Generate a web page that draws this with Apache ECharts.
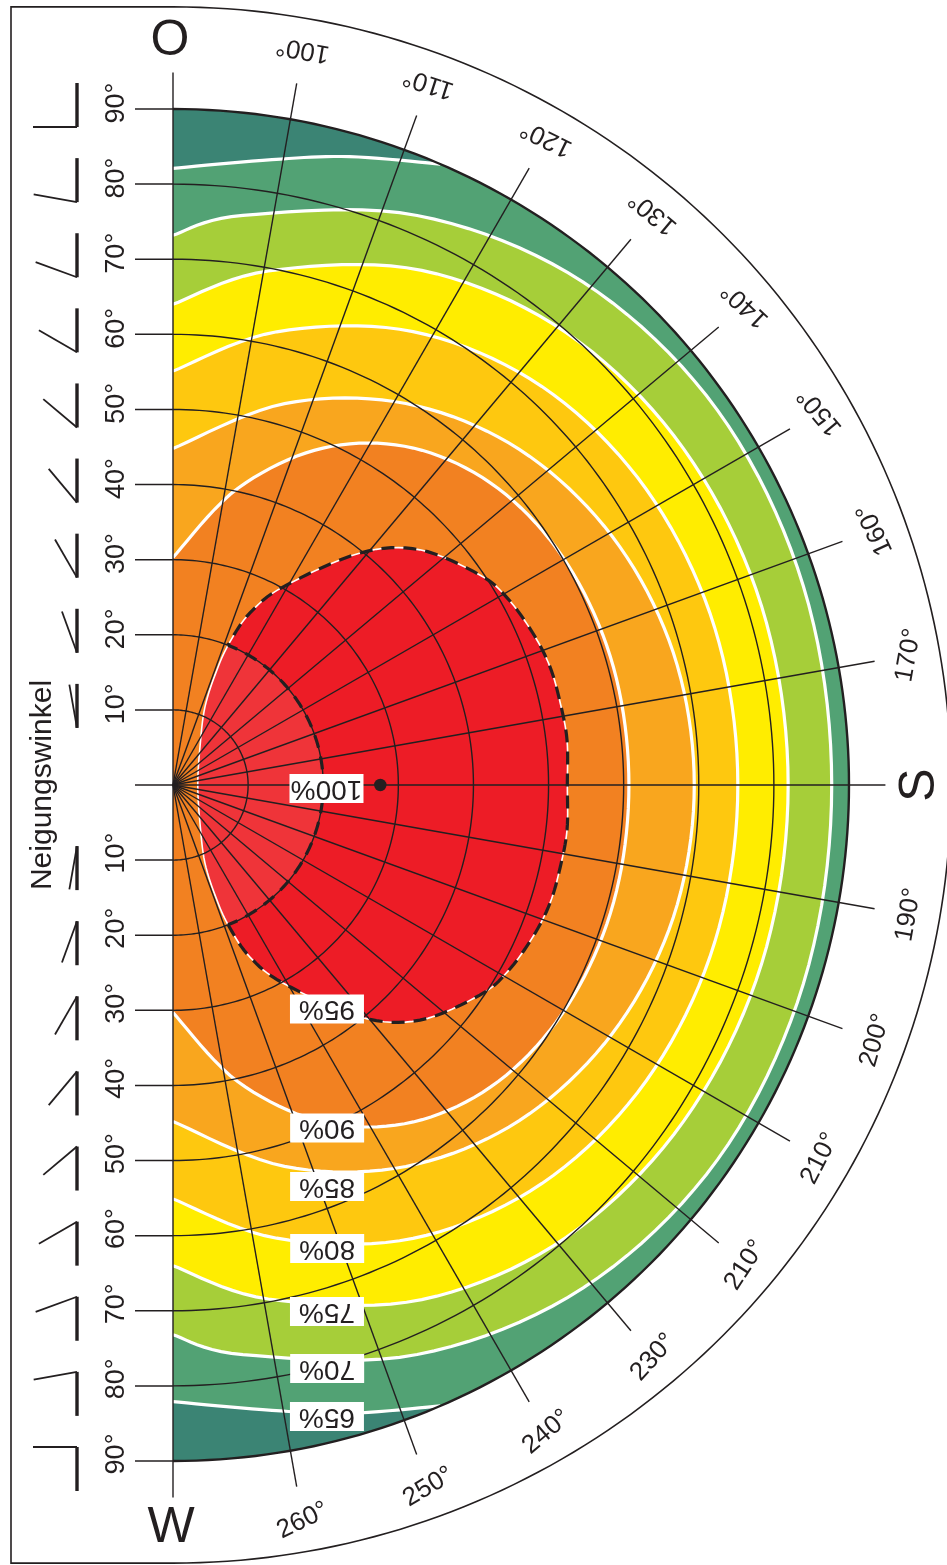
<!DOCTYPE html>
<html><head><meta charset="utf-8">
<script src="https://cdn.jsdelivr.net/npm/echarts@6/dist/echarts.min.js"></script>
<style>html,body{margin:0;padding:0;background:#fff}#main{width:947px;height:1565px}</style>
</head><body><div id="main"></div>
<script>
// ---------------- DATA ----------------
const tiltValues = [10, 20, 30, 40, 50, 60, 70, 80, 90];
const azimuthGrid = [90,100,110,120,130,140,150,160,170,180,190,200,210,220,230,240,250,260,270];
const azimuthLabelAngles = [100,110,120,130,140,150,160,170,180,190,200,210,220,230,240,250,260];
const azimuthLabelTexts = ['100°','110°','120°','130°','140°','150°','160°','170°','S','190°','200°','210°','210°','230°','240°','250°','260°'];
const tiltAxisTitle = 'Neigungswinkel';
const compassTexts = ['O', 'S', 'W'];
const bandLabels = ['100%','95%','90%','85%','80%','75%','70%','65%'];
// contour lines: [azimuth°, tilt°]
const contour65 = [[90,82.1],[99,84.3],[105.7,86.9],[113.3,90],[246.7,90],[254.3,86.9],[261,84.3],[270,82.1]];
const contour70 = [[90,73.2],[97.0,76.4],[113.2,82.5],[129.2,86.4],[145.5,88.0],[162.5,88.0],[180,87.7],[197.5,88.0],[214.5,88.0],[230.8,86.4],[246.8,82.5],[263.0,76.4],[270,73.2]];
const contour75 = [[90,64.0],[100.5,69.6],[115.8,76.1],[131.0,79.8],[146.7,81.4],[163.1,81.9],[180,81.9],[196.9,81.9],[213.3,81.4],[229.0,79.8],[244.2,76.1],[259.5,69.6],[270,64.0]];
const contour80 = [[90,55.1],[102.9,61.9],[117.9,68.3],[132.8,72.3],[148.0,74.3],[163.8,75.1],[180,75.2],[196.2,75.1],[212.0,74.3],[227.2,72.3],[242.1,68.3],[257.1,61.9],[270,55.1]];
const contour85 = [[90,44.8],[106.3,52.9],[121.4,59.5],[135.9,64.2],[150.5,67.2],[165.2,68.9],[180,69.4],[194.8,68.9],[209.5,67.2],[224.1,64.2],[238.6,59.5],[253.7,52.9],[270,44.8]];
const contour90 = [[90,30.3],[102.3,40.4],[114.0,49.1],[125.5,55.1],[137.7,58.6],[150.9,60.2],[165.1,60.7],[180,60.7],[194.9,60.7],[209.1,60.2],[222.3,58.6],[234.5,55.1],[246.0,49.1],[257.7,40.4],[270,30.3]];
const contour95 = [[180,52.5],[173.5,52.8],[168,52.7],[162.6,52.6],[157.1,52.0],[150.8,51.0],[145.6,49.5],[136.4,45.4],[128.9,39.7],[119.1,30.2],[114.1,25.1],[111.7,20.5],[110.9,16.4],[112.3,11.2],[125.4,6.2],[180,3.3],
                   [234.6,6.2],[247.7,11.2],[249.1,16.4],[248.3,20.5],[245.9,25.1],[240.9,30.2],[231.1,39.7],[223.6,45.4],[214.4,49.5],[209.2,51.0],[202.9,52.0],[197.4,52.6],[192,52.7],[186.5,52.8]];
const optimumPoint = [180, 27.6];
const lowTiltLimit = 20;

// ---------------- LAYOUT / STYLE ----------------
const C = { teal:'#3B8474', green:'#52A274', ygreen:'#A6CE39', yellow:'#FFED00', gold:'#FEC80F', lorange:'#F9A61E', orange:'#F28121', red:'#ED1C26', lred:'#EF3439', ink:'#231F20' };
const bandFills = [C.green, C.ygreen, C.yellow, C.gold, C.lorange, C.orange];
const openContours = [contour65, contour70, contour75, contour80, contour85, contour90];
const R_MAX = 103.6, PX_PER_DEG = 7.511;
const labelRadius = 99.45, letterRadius = 99.0, gridRadius = 94.85;
const azLabelRot = [170,162,154,140,137,130,115,80,90,80,74,63,57,48,40,31,26];
const bandLabelPos = [[181.3,20.44],[235.5,36.19],[245.8,50.06],[249.0,57.25],[251.6,65.03],[253.7,73.04],[255.2,80.35],[256.3,86.54]];
const FONT = 'Liberation Sans, Arial, Helvetica, sans-serif';

function smooth(pts, closed, seg) {
  seg = seg || 10;
  const n = pts.length, out = [];
  if (n < 3) return pts.slice();
  const get = i => closed ? pts[(i + n) % n] : pts[Math.max(0, Math.min(n - 1, i))];
  const last = closed ? n : n - 1;
  for (let i = 0; i < last; i++) {
    const p0 = get(i - 1), p1 = get(i), p2 = get(i + 1), p3 = get(i + 2);
    for (let s = 0; s < seg; s++) {
      const t = s / seg, t2 = t * t, t3 = t2 * t;
      const f = k => 0.5 * ((2 * p1[k]) + (-p0[k] + p2[k]) * t + (2 * p0[k] - 5 * p1[k] + 4 * p2[k] - p3[k]) * t2 + (-p0[k] + 3 * p1[k] - 3 * p2[k] + p3[k]) * t3);
      out.push([f(0), f(1)]);
    }
  }
  if (!closed) out.push(pts[n - 1]);
  return out;
}

function renderAll(params, api) {
  const P = (az, t) => api.coord([t, az]);
  const arc = (t, a0, a1) => { const pts = []; const n = Math.max(2, Math.ceil(Math.abs(a1 - a0))); for (let i = 0; i <= n; i++) pts.push(P(a0 + (a1 - a0) * i / n, t)); return pts; };
  const ctr = P(90, 0);
  const azOf = p => 90 + Math.atan2(p[0] - ctr[0], ctr[1] - p[1]) * 180 / Math.PI;
  const kids = [];
  const line = (a, b, w, col) => kids.push({ type: 'line', shape: { x1: a[0], y1: a[1], x2: b[0], y2: b[1] }, style: { stroke: col || C.ink, lineWidth: w } });
  const poly = (pts, w, col, dash) => kids.push({ type: 'polyline', shape: { points: pts }, style: { stroke: col || C.ink, lineWidth: w, fill: null, lineDash: dash || null } });
  const text = (s, x, y, size, rot, extra) => kids.push({ type: 'text', x: x, y: y, rotation: rot || 0, style: Object.assign({ text: s, fill: C.ink, fontSize: size, fontFamily: FONT, align: 'center', verticalAlign: 'middle' }, extra || {}) });

  // base: whole half disc (< 65 %)
  kids.push({ type: 'polygon', shape: { points: [ctr].concat(arc(90, 90, 270)) }, style: { fill: C.teal } });

  // open contour bands
  const whiteLines = [];
  openContours.forEach((c, k) => {
    const pieces = []; let cur = [c[0]];
    for (let i = 1; i < c.length; i++) {
      if (c[i - 1][1] >= 90 && c[i][1] >= 90) { pieces.push(cur); cur = [c[i]]; } else cur.push(c[i]);
    }
    pieces.push(cur);
    const lines = pieces.map(pc => smooth(pc.map(p => P(p[0], p[1])), false));
    let fill = [ctr];
    pieces.forEach((pc, j) => {
      fill = fill.concat(lines[j]);
      if (j < pieces.length - 1) fill = fill.concat(arc(90, pc[pc.length - 1][0], pieces[j + 1][0][0]));
    });
    kids.push({ type: 'polygon', shape: { points: fill }, style: { fill: bandFills[k] } });
    lines.forEach(l => whiteLines.push(l));
  });

  // 95 % closed region
  const loop = smooth(contour95.map(p => P(p[0], p[1])), true, 8);
  kids.push({ type: 'polygon', shape: { points: loop }, style: { fill: C.red } });
  const r20 = ctr[1] - P(90, lowTiltLimit)[1];
  const d = p => Math.hypot(p[0] - ctr[0], p[1] - ctr[1]);
  let i0 = -1, i1 = -1;
  loop.forEach((p, i) => { if (d(p) <= r20) { if (i0 < 0) i0 = i; i1 = i; } });
  const azU = azOf(loop[i0]), azL = azOf(loop[i1]);
  const light = loop.slice(i0, i1 + 1).concat(arc(lowTiltLimit, azL, azU));
  kids.push({ type: 'polygon', shape: { points: light }, style: { fill: C.lred } });

  // white contour lines
  whiteLines.forEach(l => poly(l, 3.2, '#ffffff'));
  kids.push({ type: 'polygon', shape: { points: loop }, style: { fill: null, stroke: '#ffffff', lineWidth: 1.6 } });

  // black grid
  tiltValues.forEach(t => { if (t < 90) poly(arc(t, 90, 270), 1.4); });
  azimuthGrid.forEach(a => line(P(a, 0), P(a, gridRadius), 1.4));
  poly(arc(90, 90, 270), 2.4);
  [0].concat(tiltValues).forEach(t => {
    const u = P(90, t), l = P(270, t);
    line([u[0] - 38, u[1]], u, 1.5);
    if (t > 0) line([l[0] - 38, l[1]], l, 1.5);
  });

  // dashed boundary of optimum zone (outside low tilt)
  const dashed = loop.slice(i1).concat(loop.slice(0, i0 + 1)).concat(arc(lowTiltLimit, azU, azL));
  poly(dashed, 3.2, C.ink, [13, 9]);

  const op = P(optimumPoint[0], optimumPoint[1]);
  kids.push({ type: 'circle', shape: { cx: op[0], cy: op[1], r: 6.2 }, style: { fill: C.ink } });

  bandLabels.forEach((s, i) => {
    const p = P(bandLabelPos[i][0], bandLabelPos[i][1]);
    kids.push({ type: 'rect', shape: { x: p[0] - 37, y: p[1] - 14.5, width: 74, height: 29 }, style: { fill: '#ffffff' } });
    text(s, p[0], p[1], 28, Math.PI);
  });

  poly(arc(R_MAX, 90, 270), 1.6);
  const top = P(90, R_MAX), bot = P(270, R_MAX);
  poly([top, [11, top[1]], [11, bot[1]], bot], 1.6);

  azimuthLabelAngles.forEach((a, i) => {
    const p = P(a, labelRadius);
    if (azimuthLabelTexts[i] === 'S') text('S', p[0], p[1], 50, Math.PI / 2);
    else text(azimuthLabelTexts[i], p[0], p[1], 26, azLabelRot[i] * Math.PI / 180);
  });
  const pO = P(90, letterRadius), pW = P(270, letterRadius);
  text(compassTexts[0], pO[0] - 3, pO[1], 50, 0);
  text(compassTexts[2], pW[0] - 2, pW[1], 50, 0);

  tiltValues.forEach(t => {
    const u = P(90, t), l = P(270, t);
    const s = Math.sin(t * Math.PI / 180), c = Math.cos(t * Math.PI / 180);
    text(t + '°', u[0] - 56, u[1] - 6, 27, Math.PI / 2);
    text(t + '°', l[0] - 56, l[1] - 7, 27, Math.PI / 2);
    const xv = u[0] - 96;
    const uc = u[1] - 4;
    line([xv, uc - 22], [xv, uc + 22], 3.4);
    line([xv, uc + 22], [xv - 44 * s, uc + 22 - 44 * c], 1.8);
    const lc = l[1] + 8;
    line([xv, lc - 22], [xv, lc + 22], 3.4);
    line([xv, lc - 22], [xv - 44 * s, lc - 22 + 44 * c], 1.8);
  });
  text(tiltAxisTitle, 43, ctr[1], 30, Math.PI / 2);

  return { type: 'group', children: kids };
}

const chart = echarts.init(document.getElementById('main'));
chart.setOption({
  animation: false,
  backgroundColor: '#ffffff',
  polar: { center: [173, 785], radius: R_MAX * PX_PER_DEG },
  angleAxis: { type: 'value', min: 90, max: 450, startAngle: 90, clockwise: true, show: false },
  radiusAxis: { type: 'value', min: 0, max: R_MAX, show: false },
  series: [{ type: 'custom', coordinateSystem: 'polar', silent: true, data: [[0, 90]], renderItem: renderAll }]
});
</script></body></html>
